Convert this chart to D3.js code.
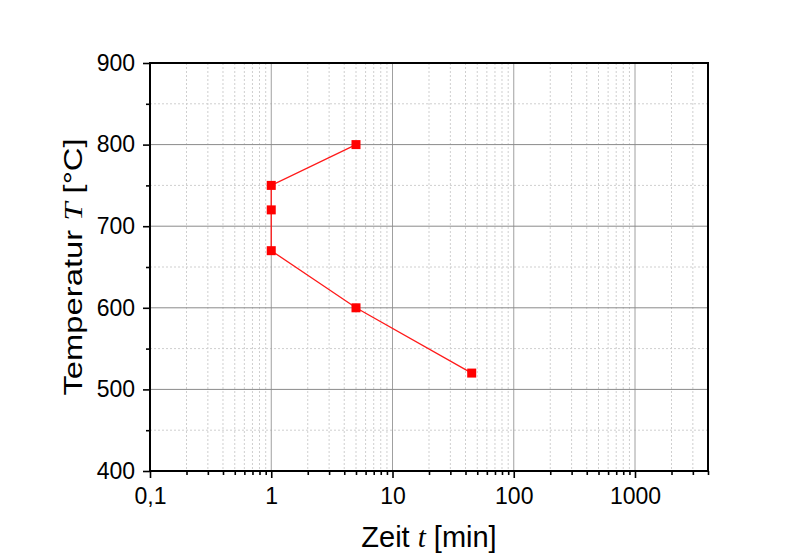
<!DOCTYPE html>
<html>
<head>
<meta charset="utf-8">
<script src="https://cdn.jsdelivr.net/npm/d3@7"></script>
<style>
  html, body { margin: 0; padding: 0; background: #fff; }
  svg { display: block; font-family: "Liberation Sans", Arial, sans-serif; }
</style>
</head>
<body>
<svg id="chart" width="803" height="556"></svg>
<script>
// Holding time vs. temperature
const timeMin = [5, 1, 1, 1, 5, 45];
const tempC   = [800, 750, 720, 670, 600, 520];

const xTickValues = [0.1, 1, 10, 100, 1000];
const xTickLabels = ["0,1", "1", "10", "100", "1000"];
const yTickValues = [400, 500, 600, 700, 800, 900];

const svg = d3.select("#chart");
const plotL = 150, plotR = 708, plotT = 63, plotB = 471;

const x = d3.scaleLog().domain([0.1, 4000]).range([plotL, plotR]);
const y = d3.scaleLinear().domain([400, 900]).range([plotB, plotT]);

// minor tick positions (2..9 per decade)
const xMinor = [];
for (let e = -1; e <= 3; e++) {
  for (let m = 2; m <= 9; m++) {
    const v = m * Math.pow(10, e);
    if (v <= 4000) xMinor.push(v);
  }
}
const yMinor = d3.range(450, 900, 100);

const grid = svg.append("g");
// minor grid (dotted)
grid.selectAll(".xmg").data(xMinor).join("line")
  .attr("x1", d => x(d)).attr("x2", d => x(d))
  .attr("y1", plotT).attr("y2", plotB)
  .attr("stroke", "#cfcfcf").attr("stroke-width", 1)
  .attr("stroke-dasharray", "2,2");
grid.selectAll(".ymg").data(yMinor).join("line")
  .attr("x1", plotL).attr("x2", plotR)
  .attr("y1", d => y(d)).attr("y2", d => y(d))
  .attr("stroke", "#cfcfcf").attr("stroke-width", 1)
  .attr("stroke-dasharray", "2,2");
// major grid (solid)
grid.selectAll(".xMg").data(xTickValues.slice(1)).join("line")
  .attr("x1", d => x(d)).attr("x2", d => x(d))
  .attr("y1", plotT).attr("y2", plotB)
  .attr("stroke", "#a0a0a0").attr("stroke-width", 1);
grid.selectAll(".yMg").data(yTickValues.slice(1, -1)).join("line")
  .attr("x1", plotL).attr("x2", plotR)
  .attr("y1", d => y(d)).attr("y2", d => y(d))
  .attr("stroke", "#8a8a8a").attr("stroke-width", 1);

// axes
const fmt = d => xTickLabels[xTickValues.indexOf(d)];
const xAxis = d3.axisBottom(x).tickValues(xTickValues).tickFormat(fmt)
  .tickSizeInner(7).tickSizeOuter(0).tickPadding(10);
const xAxisMinor = d3.axisBottom(x).tickValues(xMinor).tickFormat("")
  .tickSizeInner(4).tickSizeOuter(0);
const yAxis = d3.axisLeft(y).tickValues(yTickValues).tickFormat(d3.format("d"))
  .tickSizeInner(7).tickSizeOuter(0).tickPadding(8);
const yAxisMinor = d3.axisLeft(y).tickValues(yMinor).tickFormat("")
  .tickSizeInner(4).tickSizeOuter(0);

function styleAxis(g) {
  g.select(".domain").remove();
  g.selectAll("line").attr("stroke", "#000").attr("stroke-width", 1.6);
  g.selectAll("text").attr("fill", "#000").attr("font-size", 23)
    .attr("font-family", "'Liberation Sans', Arial, sans-serif");
}

svg.append("g").attr("transform", `translate(0,${plotB})`).call(xAxisMinor).call(styleAxis);
svg.append("g").attr("transform", `translate(0,${plotB})`).call(xAxis).call(styleAxis);
svg.append("g").attr("transform", `translate(${plotL},0)`).call(yAxisMinor).call(styleAxis);
svg.append("g").attr("transform", `translate(${plotL},0)`).call(yAxis).call(styleAxis);

// frame
svg.append("rect")
  .attr("x", plotL).attr("y", plotT)
  .attr("width", plotR - plotL).attr("height", plotB - plotT)
  .attr("fill", "none").attr("stroke", "#000").attr("stroke-width", 2);

// data line + markers
const pts = timeMin.map((t, i) => [t, tempC[i]]);
svg.append("path")
  .datum(pts)
  .attr("d", d3.line().x(d => x(d[0])).y(d => y(d[1])))
  .attr("fill", "none").attr("stroke", "#ff1a1a").attr("stroke-width", 1.3);
const ms = 9;
svg.selectAll(".pt").data(pts).join("rect")
  .attr("x", d => x(d[0]) - ms / 2).attr("y", d => y(d[1]) - ms / 2)
  .attr("width", ms).attr("height", ms)
  .attr("fill", "#ff0000");

// axis titles
const serif = "'Liberation Serif', 'Times New Roman', serif";
const xt = svg.append("text")
  .attr("x", (plotL + plotR) / 2).attr("y", 547)
  .attr("text-anchor", "middle").attr("font-size", 29).attr("fill", "#000");
xt.append("tspan").text("Zeit ");
xt.append("tspan").text("t").attr("font-family", serif).attr("font-style", "italic");
xt.append("tspan").text(" [min]");

const yt = svg.append("text")
  .attr("transform", `translate(82,${(plotT + plotB) / 2}) rotate(-90)`)
  .attr("text-anchor", "middle").attr("font-size", 25).attr("fill", "#000")
  .attr("textLength", 257).attr("lengthAdjust", "spacingAndGlyphs");
yt.append("tspan").text("Temperatur ");
yt.append("tspan").text("T").attr("font-family", serif).attr("font-style", "italic");
yt.append("tspan").text(" [°C]");
</script>
</body>
</html>
